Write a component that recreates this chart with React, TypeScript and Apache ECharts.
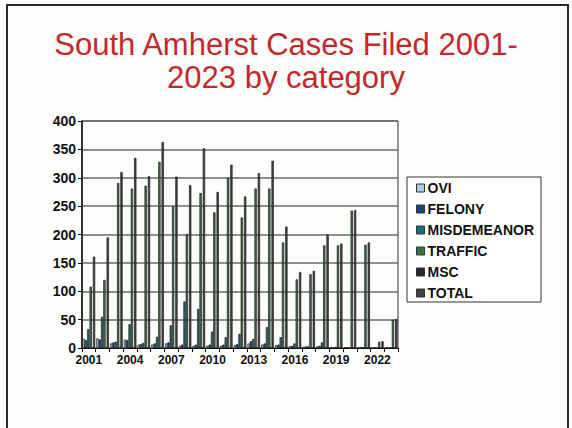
import React, { useEffect, useRef } from "react";
import * as echarts from "echarts";

const years = ["2001","2002","2003","2004","2005","2006","2007","2008","2009","2010","2011","2012","2013","2014","2015","2016","2017","2018","2019","2020","2021","2022","2023"];
const ovi = [16, 17, 8, 15, 6, 6, 8, 4, 4, 4, 4, 5, 8, 6, 5, 3, 2, 3, 1, 1, 1, 0, 1];
const felony = [14, 15, 10, 14, 7, 8, 10, 6, 6, 6, 6, 7, 12, 8, 6, 4, 3, 4, 1, 1, 1, 0, 1];
const misdemeanor = [33, 55, 11, 42, 9, 20, 40, 82, 69, 29, 19, 25, 16, 37, 19, 8, 3, 10, 2, 1, 1, 0, 1];
const traffic = [108, 120, 291, 281, 286, 328, 250, 201, 273, 239, 300, 230, 281, 281, 186, 121, 130, 181, 181, 242, 182, 11, 50];
const msc = [0, 0, 0, 0, 0, 0, 0, 0, 0, 0, 0, 0, 0, 0, 0, 0, 0, 0, 0, 0, 0, 0, 0];
const total = [161, 195, 310, 335, 303, 363, 302, 287, 352, 275, 323, 267, 308, 330, 214, 134, 136, 200, 184, 243, 186, 12, 51];
const yTicks = { min: 0, max: 400, interval: 50 };

const seriesDefs = [
  { name: "OVI", data: ovi, color: "#a9cfe6" },
  { name: "FELONY", data: felony, color: "#1f3f8a" },
  { name: "MISDEMEANOR", data: misdemeanor, color: "#1d6f7a" },
  { name: "TRAFFIC", data: traffic, color: "#3c7049" },
  { name: "MSC", data: msc, color: "#26262e" },
  { name: "TOTAL", data: total, color: "#434346" },
];

export default function App() {
  const ref = useRef<HTMLDivElement>(null);
  useEffect(() => {
    if (!ref.current) return;
    const chart = echarts.init(ref.current, null, { renderer: "svg" });
    const font = "Liberation Sans, Arial, sans-serif";
    chart.setOption({
      animation: false,
      backgroundColor: "#fdfdfc",
      textStyle: { fontFamily: font },
      graphic: [
        { type: "rect", shape: { x: 7, y: 5, width: 561, height: 440 }, style: { fill: "none", stroke: "#2a2a2a", lineWidth: 2 }, silent: true },
        { type: "text", left: "center", top: 28, style: { text: "South Amherst Cases Filed 2001-\n2023 by category", fill: "#c4282b", font: "31px Liberation Sans, Arial, sans-serif", textAlign: "center", lineHeight: 33 } },
        { type: "rect", shape: { x: 407, y: 177, width: 134, height: 125 }, style: { fill: "#ffffff", stroke: "#333", lineWidth: 1 }, silent: true, z: -1 },
      ],
      legend: {
        orient: "vertical",
        left: 411,
        top: 176,
        itemWidth: 8,
        itemHeight: 8,
        itemGap: 7,
        icon: "rect",
        textStyle: { fontFamily: font, fontWeight: "bold", fontSize: 14, color: "#111", padding: [0, 0, 0, -2] },
        data: seriesDefs.map((s) => ({ name: s.name, itemStyle: { color: s.color, borderColor: "#333", borderWidth: 1 } })),
      },
      grid: { left: 82, right: 174, top: 121, bottom: 80, containLabel: false, show: true, borderColor: "#333", borderWidth: 1 },
      xAxis: {
        type: "category",
        data: years,
        boundaryGap: true,
        axisLine: { lineStyle: { color: "#111", width: 1 } },
        axisTick: { show: true, interval: 0, length: 4, lineStyle: { color: "#111" } },
        axisLabel: { interval: 2, fontWeight: "bold", fontSize: 12, color: "#111", margin: 6, fontFamily: font },
      },
      yAxis: {
        type: "value",
        min: yTicks.min,
        max: yTicks.max,
        interval: yTicks.interval,
        axisLine: { show: true, lineStyle: { color: "#111", width: 1.5 } },
        axisTick: { show: true, length: 4, lineStyle: { color: "#111" } },
        axisLabel: { fontWeight: "bold", fontSize: 14, color: "#111", margin: 6, fontFamily: font },
        splitLine: { lineStyle: { color: "#6a6a6a", width: 1.5 } },
      },
      series: seriesDefs.map((s) => ({
        name: s.name,
        type: "bar",
        data: s.data,
        barGap: "0%",
        barCategoryGap: "8%",
        ...(s.name === "MSC" ? { barWidth: 0.01 } : {}),
        itemStyle: { color: s.color, borderColor: "#222", borderWidth: 0.7 },
      })),
    });
    return () => chart.dispose();
  }, []);
  return <div ref={ref} style={{ position: "absolute", left: 0, top: 0, width: 572, height: 428 }} />;
}
